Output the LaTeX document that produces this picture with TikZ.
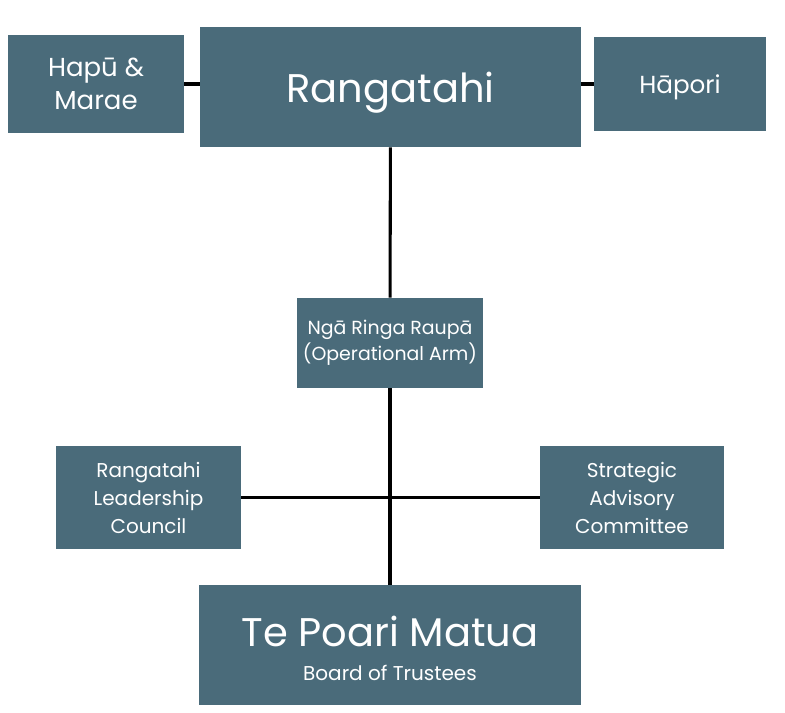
\documentclass[tikz,border=0pt]{standalone}
\usepackage{fontspec}
\setmainfont{Poppins}
\usetikzlibrary{positioning}

\definecolor{slate}{RGB}{74,107,122}

\begin{document}
\begin{tikzpicture}[x=0.75pt,y=-0.75pt,
  box/.style={fill=slate,text=white,align=center,inner sep=0pt},
  link/.style={line width=2.3pt,black}]
  \useasboundingbox (0,0) rectangle (785,713);

  \node[box,text depth=0pt,minimum width=285.75pt,minimum height=90pt,font=\fontsize{30}{34}\selectfont] (rang) at (390.5,87) {Rangatahi};
  \node[box,minimum width=132pt,minimum height=73.5pt,font=\fontsize{19.5}{25}\selectfont] (hapu) at (96,84) {Hapū \&\\Marae};
  \node[box,text depth=0pt,minimum width=129pt,minimum height=70.5pt,font=\fontsize{18.5}{23}\selectfont] (hapori) at (680,84) {Hāpori};
  \node[box,minimum width=139.5pt,minimum height=67.5pt,font=\fontsize{14.2}{19.5}\selectfont] (nga) at (390,343) {Ngā Ringa Raupā\\(Operational Arm)};
  \node[box,minimum width=138.75pt,minimum height=77.25pt,font=\fontsize{15}{21}\selectfont] (lead) at (148.5,497.5) {Rangatahi\\Leadership\\Council};
  \node[box,minimum width=138pt,minimum height=77.25pt,font=\fontsize{15}{21}\selectfont] (strat) at (632,497.5) {Strategic\\Advisory\\Committee};
  \node[box,minimum width=286.5pt,minimum height=90pt,font=\fontsize{15}{26}\selectfont] (board) at (390,645) {{\fontsize{30}{34}\selectfont\rule{0pt}{28pt}Te Poari Matua}\\Board of Trustees};

  \draw[link] (hapu.east) -- (hapu.east -| rang.west);
  \draw[link] (hapori.west) -- (hapori.west -| rang.east);
  \draw[link] (rang) -- (nga);
  \draw[link] (nga) -- (board);
  \draw[link] (lead) -- (strat);
\end{tikzpicture}
\end{document}
